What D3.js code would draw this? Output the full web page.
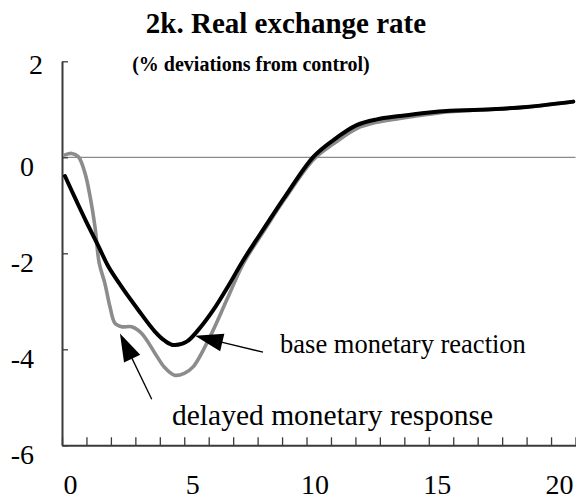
<!DOCTYPE html>
<html><head><meta charset="utf-8">
<script src="https://cdn.jsdelivr.net/npm/d3@7"></script>
<style>
html,body{margin:0;padding:0;background:#fff;}
svg{display:block;}
svg text{font-family:"Liberation Serif","Times New Roman",serif !important;}
</style></head>
<body>
<svg id="chart" width="576" height="499"></svg>
<script>
// ---- data ----
const baseX = [0.12,0.6,1.0,1.5,1.89,2.44,3.12,3.80,4.2,4.55,5.1,5.6,6.19,6.8,7.42,8.30,9.12,10.28,11.10,12.05,12.87,13.82,14.92,15.87,17.10,19.0,20.91];
const baseY = [-0.39,-0.92,-1.35,-1.86,-2.27,-2.70,-3.18,-3.63,-3.82,-3.91,-3.84,-3.58,-3.18,-2.68,-2.14,-1.45,-0.82,0.01,0.36,0.67,0.79,0.86,0.93,0.97,0.99,1.05,1.16];
const delayX = [0.12,0.4,0.67,0.94,1.15,1.35,1.52,1.75,1.96,2.17,2.44,2.85,3.26,3.80,4.2,4.6,5.0,5.37,6.05,6.74,7.42,8.30,9.12,10.28,11.10,12.05,12.87,13.82,14.92,15.87,17.10,19.0,20.91];
const delayY = [0.05,0.08,0.01,-0.33,-0.82,-1.45,-2.2,-2.62,-3.11,-3.46,-3.53,-3.53,-3.67,-4.08,-4.38,-4.54,-4.50,-4.36,-3.74,-2.97,-2.21,-1.50,-0.86,-0.05,0.28,0.60,0.73,0.81,0.89,0.95,0.99,1.05,1.16];
const yTicks = [2,0,-2,-4,-6];
const xTicks = d3.range(0,22);
const xLabels = [0,5,10,15,20];
const title = "2k. Real exchange rate";
const subtitle = "(% deviations from control)";
const notes = [
  {text:"base monetary reaction", x:8.92, y:-4.08, tipX:5.44, tipY:-3.72, tailX:8.22, tailY:-4.06, size:26.5},
  {text:"delayed monetary response", x:4.5, y:-5.58, tipX:2.37, tipY:-3.67, tailX:3.67, tailY:-5.04, size:29.5}
];

// ---- chart ----
const svg = d3.select("#chart");
const x = d3.scaleLinear().domain([0,21]).range([62,575.5]);
const y = d3.scaleLinear().domain([-6,2]).range([445.3,61.3]);

svg.append("text").attr("x",286).attr("y",33).attr("text-anchor","middle")
  .attr("font-weight","bold").attr("font-size",29).text(title);
svg.append("text").attr("x",251).attr("y",71).attr("text-anchor","middle")
  .attr("font-weight","bold").attr("font-size",20).text(subtitle);

// zero line
svg.append("line").attr("x1",x(0)).attr("x2",x(21)).attr("y1",y(0)).attr("y2",y(0))
  .attr("stroke","#8a8a8a").attr("stroke-width",1.2);

// axes
const ya = svg.append("g").attr("transform",`translate(${x(0)},0)`)
  .call(d3.axisLeft(y).tickValues(yTicks).tickSize(-6).tickSizeOuter(0).tickPadding(28)
    .tickFormat(d => String(d)));
const xa = svg.append("g").attr("transform",`translate(0,${y(-6)})`)
  .call(d3.axisBottom(x).tickValues(xTicks).tickSize(-8).tickSizeOuter(0)
    .tickFormat(d => xLabels.includes(d) ? String(d) : ""));
[ya,xa].forEach(g=>{
  g.attr("font-family",null).attr("font-size",28);
  g.select(".domain").attr("stroke","#3a3a3a").attr("stroke-width",2);
  g.selectAll(".tick line").attr("stroke","#3a3a3a").attr("stroke-width",1.3);
  g.selectAll("text").attr("font-size",28).attr("fill","#000");
});
ya.selectAll("text").attr("dy","0.66em")
  .attr("transform", d => d===2 ? "translate(9,-6)" : null);
xa.selectAll("text").attr("y",49).attr("dy",0).attr("dx",8);

// lines
const line = d3.line().x(d=>x(d[0])).y(d=>y(d[1])).curve(d3.curveCatmullRom.alpha(0.5));
svg.append("path").datum(delayX.map((v,i)=>[v,delayY[i]]))
  .attr("d",line).attr("fill","none").attr("stroke","#8c8c8c").attr("stroke-width",3.6)
  .attr("stroke-linejoin","round").attr("stroke-linecap","round");
svg.append("path").datum(baseX.map((v,i)=>[v,baseY[i]]))
  .attr("d",line).attr("fill","none").attr("stroke","#000").attr("stroke-width",4)
  .attr("stroke-linejoin","round").attr("stroke-linecap","round");

// annotations
notes.forEach(n=>{
  const tx=x(n.tipX), ty=y(n.tipY), sx=x(n.tailX), sy=y(n.tailY);
  const dx=tx-sx, dy=ty-sy, L=Math.hypot(dx,dy), ux=dx/L, uy=dy/L;
  const hl=28, hw=9;
  const bx=tx-ux*hl, by=ty-uy*hl;
  svg.append("line").attr("x1",sx).attr("y1",sy).attr("x2",bx+ux*2).attr("y2",by+uy*2)
    .attr("stroke","#000").attr("stroke-width",1.3);
  svg.append("path").attr("d",`M${tx},${ty}L${bx-uy*hw},${by+ux*hw}L${bx+uy*hw},${by-ux*hw}Z`)
    .attr("fill","#000");
  svg.append("text").attr("x",x(n.x)).attr("y",y(n.y)).attr("font-size",n.size).text(n.text);
});
</script>
</body></html>
